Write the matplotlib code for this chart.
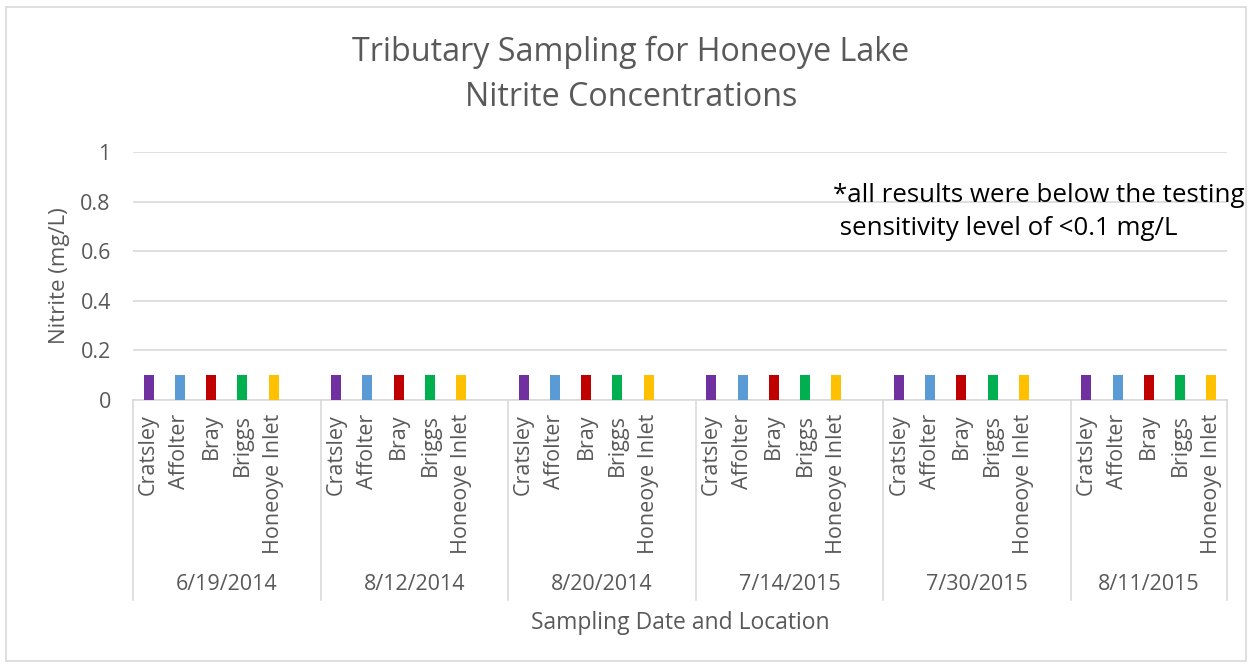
import numpy as np
import matplotlib.pyplot as plt
from matplotlib.transforms import blended_transform_factory
from matplotlib.patches import Rectangle

plt.rcParams['font.family'] = ['Open Sans', 'DejaVu Sans']

# Данные
dates = ['6/19/2014', '8/12/2014', '8/20/2014', '7/14/2015', '7/30/2015', '8/11/2015']
sites = ['Cratsley', 'Affolter', 'Bray', 'Briggs', 'Honeoye Inlet']
nitrite = [
    [0.1, 0.1, 0.1, 0.1, 0.1],
    [0.1, 0.1, 0.1, 0.1, 0.1],
    [0.1, 0.1, 0.1, 0.1, 0.1],
    [0.1, 0.1, 0.1, 0.1, 0.1],
    [0.1, 0.1, 0.1, 0.1, 0.1],
    [0.1, 0.1, 0.1, 0.1, 0.1],
]
site_colors = ['#7030A0', '#5B9BD5', '#C00000', '#00B050', '#FFC000']
yticks = [0, 0.2, 0.4, 0.6, 0.8, 1]

grey = '#595959'
W, H = 1253, 667
fig = plt.figure(figsize=(W / 100, H / 100), dpi=100)
fig.patches.append(Rectangle((6 / W, 6 / H), 1 - 13 / W, 1 - 13 / H, transform=fig.transFigure,
                             fill=False, edgecolor='#D9D9D9', linewidth=1.2))

ax = fig.add_axes([133 / W, 1 - 400 / H, (1227 - 133) / W, (400 - 152) / H])

slot = len(sites) + 1  # пустой слот между группами
n_slots = len(dates) * slot - 1
positions, labels = [], []
for g, vals in enumerate(nitrite):
    for s, v in enumerate(vals):
        x = g * slot + s
        ax.bar(x, v, width=0.32, color=site_colors[s], zorder=3)
        positions.append(x)
        labels.append(sites[s])

ax.set_xlim(-0.5, n_slots - 0.5)
ax.set_ylim(0, 1)
ax.set_yticks(yticks)
ax.set_yticklabels([f'{t:g}' for t in yticks], fontsize=15.5, color=grey)
ax.yaxis.grid(True, color='#D9D9D9', linewidth=1.2, zorder=0)
ax.tick_params(axis='y', length=0, pad=16)
ax.set_xticks(positions)
ax.set_xticklabels(labels, rotation=90, fontsize=15.5, color=grey)
ax.tick_params(axis='x', length=0, pad=10)
for side in ['top', 'right', 'left']:
    ax.spines[side].set_visible(False)
ax.spines['bottom'].set_color('#D9D9D9')
ax.spines['bottom'].set_linewidth(1.2)

# Второй уровень оси: даты и разделители
tr = blended_transform_factory(ax.transData, ax.transAxes)
bottom = -200 / 248
for g, d in enumerate(dates):
    left = g * slot - 0.5
    right = min(left + slot, n_slots - 0.5)
    ax.text((left + right) / 2, -185 / 248, d, transform=tr, ha='center', va='center',
            fontsize=15.5, color=grey)
    ax.plot([left, left], [0, bottom], transform=tr, color='#D9D9D9', lw=1.2, clip_on=False)
ax.plot([n_slots - 0.5] * 2, [0, bottom], transform=tr, color='#D9D9D9', lw=1.2, clip_on=False)

fig.text(631 / W, 1 - 75 / H, 'Tributary Sampling for Honeoye Lake\nNitrite Concentrations',
         ha='center', va='center', fontsize=23.2, color=grey, linespacing=1.5)
fig.text(60 / W, 1 - 276 / H, 'Nitrite (mg/L)', rotation=90, ha='center', va='center',
         fontsize=16, color=grey)
fig.text(680 / W, 1 - 623 / H, 'Sampling Date and Location', ha='center', va='center',
         fontsize=16.5, color=grey)
fig.text(833 / W, 1 - 212 / H, '*all results were below the testing\n sensitivity level of <0.1 mg/L',
         ha='left', va='center', fontsize=18.6, color='black', linespacing=1.4)

plt.savefig('out.png', dpi=100)
plt.close(fig)
